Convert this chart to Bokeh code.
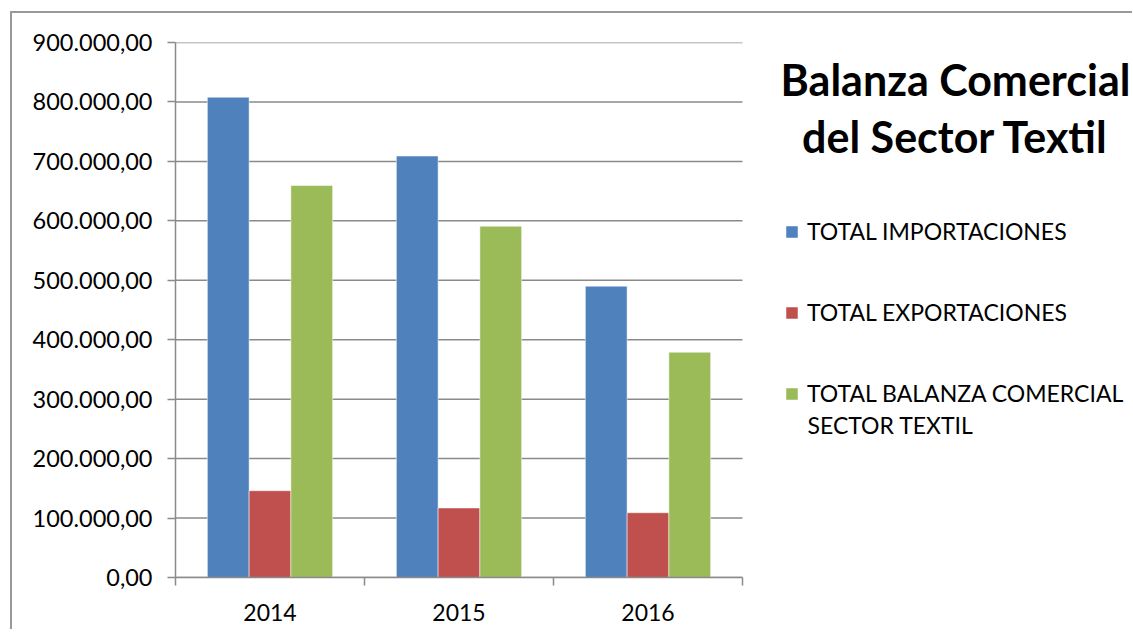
from bokeh.plotting import figure
from bokeh.models import (Range1d, FixedTicker, CustomJSTickFormatter, Legend, LegendItem, Label)
from bokeh.embed import file_html
from bokeh.resources import INLINE
import numpy as np

years = ["2014", "2015", "2016"]
importaciones = [808000, 709000, 490000]
exportaciones = [146000, 117000, 109000]
balanza = [659500, 591000, 379000]
series_names = ["TOTAL IMPORTACIONES", "TOTAL EXPORTACIONES", "TOTAL BALANZA COMERCIAL"]
series_extra_line = "SECTOR TEXTIL"
title_lines = ["Balanza Comercial", "del Sector Textil"]
colors = ["#4F81BD", "#C0504D", "#9BBB59"]
y_ticks = list(range(0, 900001, 100000))

FONT = "Lato"
GRID = "#8a8a8a"

n = len(years)
plot_px = 567      # pixel width of the bar area
frame_px = 957     # frame spans bar area + legend/title area
p = figure(output_backend="svg", toolbar_location=None,
           width=1120, height=616,
           frame_width=frame_px, frame_height=535,
           min_border_left=163, min_border_right=0,
           min_border_top=29, min_border_bottom=52,
           x_range=Range1d(0, n * frame_px / plot_px), y_range=Range1d(0, 900000),
           tools="")
p.margin = (11, 0, 0, 10)
p.styles = {"border-left": "2px solid #999999", "border-top": "2px solid #999999"}
p.outline_line_color = None
p.background_fill_color = "white"
p.border_fill_color = "white"

# horizontal gridlines limited to the bar area
p.segment(x0=0, x1=n, y0=y_ticks, y1=y_ticks, line_color=GRID, line_width=1.5)

centers = np.arange(n) + 0.5
bw = 0.221
offsets = [-bw, 0.0, bw]
renderers = []
for vals, col, off in zip([importaciones, exportaciones, balanza], colors, offsets):
    r = p.vbar(x=centers + off, top=vals, width=bw, bottom=0,
               fill_color=col, line_color="white", line_alpha=0.5, line_width=1)
    renderers.append(r)

# y axis
p.yaxis.ticker = FixedTicker(ticks=y_ticks)
p.yaxis.formatter = CustomJSTickFormatter(code="""
const s = Math.round(tick).toString().replace(/\\B(?=(\\d{3})+(?!\\d))/g, ".");
return s + ",00";
""")
p.yaxis.axis_line_color = GRID
p.yaxis.axis_line_width = 1.5
p.yaxis.major_tick_line_color = GRID
p.yaxis.major_tick_line_width = 1.5
p.yaxis.major_tick_out = 8
p.yaxis.major_tick_in = 0
p.yaxis.minor_tick_line_color = None
p.yaxis.major_label_standoff = 15
p.yaxis.major_label_text_font = FONT
p.yaxis.major_label_text_font_size = "23.5px"
p.yaxis.major_label_text_color = "black"

# x axis
p.xaxis.bounds = (0, n)
p.xaxis.ticker = FixedTicker(ticks=list(centers), minor_ticks=list(range(n + 1)))
p.xaxis.major_label_overrides = {float(c): y for c, y in zip(centers, years)}
p.xaxis.axis_line_color = GRID
p.xaxis.axis_line_width = 1.5
p.xaxis.major_tick_line_color = None
p.xaxis.major_tick_out = 0
p.xaxis.major_tick_in = 0
p.xaxis.minor_tick_line_color = GRID
p.xaxis.minor_tick_line_width = 1.5
p.xaxis.minor_tick_out = 8
p.xaxis.minor_tick_in = 0
p.xaxis.major_label_standoff = 18
p.xaxis.major_label_text_font = FONT
p.xaxis.major_label_text_font_size = "23px"
p.xaxis.major_label_text_color = "black"

p.xgrid.grid_line_color = None
p.ygrid.grid_line_color = None

# legend
legend = Legend(items=[LegendItem(label=s, renderers=[r]) for s, r in zip(series_names, renderers)],
                location=(609, 170), orientation="vertical",
                glyph_width=15, glyph_height=15, spacing=53, padding=0, margin=0,
                label_standoff=8, label_text_font=FONT, label_text_font_size="23px",
                label_text_color="black", border_line_color=None, background_fill_alpha=0)
p.add_layout(legend, "center")

p.add_layout(Label(x=632, y=153, x_units="screen", y_units="screen", text=series_extra_line,
                   text_font=FONT, text_font_size="23px", text_color="black",
                   text_baseline="alphabetic"))

# title
for t, yy in zip(title_lines, [498, 441]):
    p.add_layout(Label(x=780, y=yy, x_units="screen", y_units="screen", text=t,
                       text_font=FONT, text_font_size="43px", text_font_style="bold",
                       text_color="black", text_align="center", text_baseline="alphabetic"))

open("out.html", "w").write(file_html(p, INLINE))
